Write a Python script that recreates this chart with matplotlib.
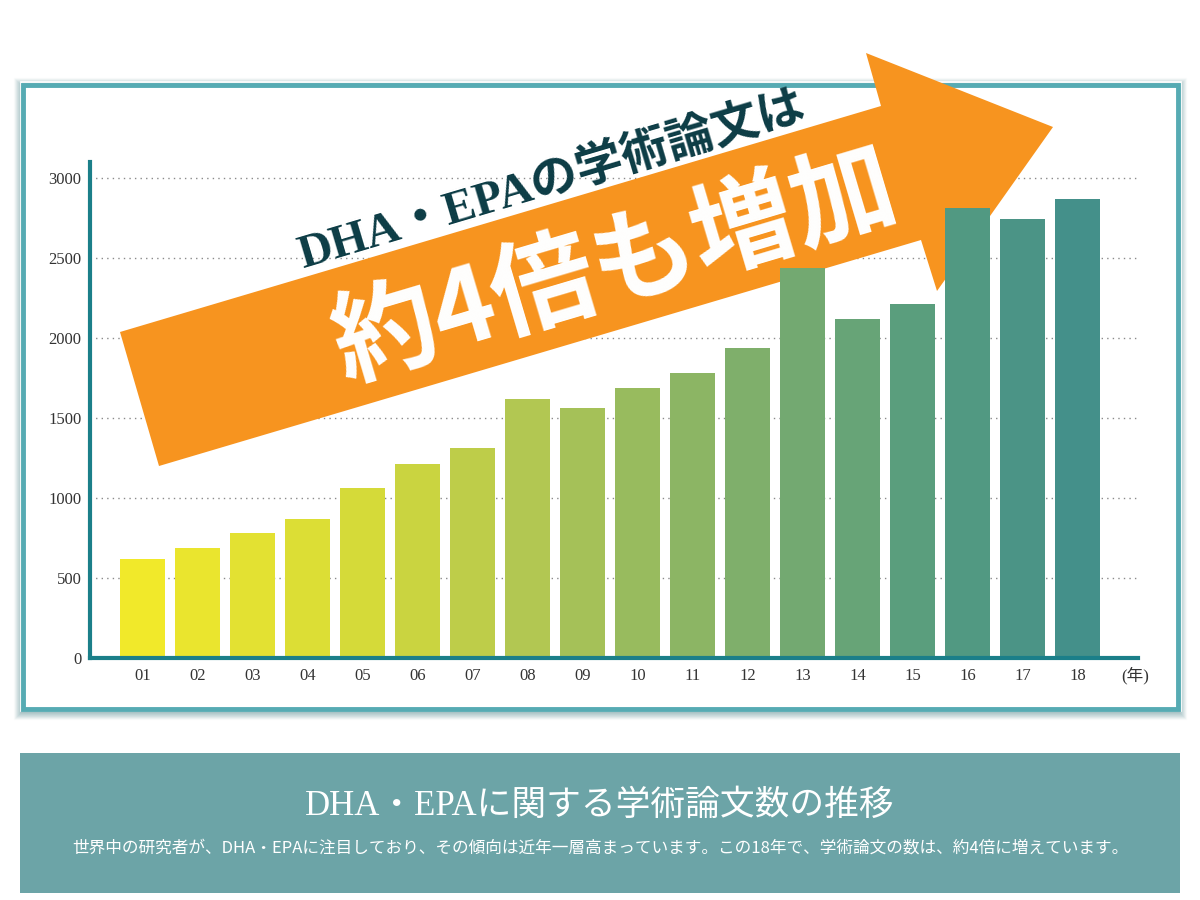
import numpy as np
import matplotlib
matplotlib.use('Agg')
import matplotlib.pyplot as plt
from matplotlib.patches import Polygon, Rectangle
from matplotlib.colors import LinearSegmentedColormap

# data (papers per year, 2001-2018)
years = ['01', '02', '03', '04', '05', '06', '07', '08', '09',
         '10', '11', '12', '13', '14', '15', '16', '17', '18']
papers = [620, 685, 780, 870, 1060, 1215, 1310, 1620, 1560,
          1685, 1780, 1935, 2435, 2120, 2215, 2810, 2745, 2870]
y_ticks = [0, 500, 1000, 1500, 2000, 2500, 3000]

title = 'DHA・EPAに関する学術論文数の推移'
subtitle = ('世界中の研究者が、DHA・EPAに注目しており、その傾向は近年一層高まっています。'
            'この18年で、学術論文の数は、約4倍に増えています。')
arrow_top = 'DHA・EPAの学術論文は'
arrow_big = '約4倍も増加'

W, H = 1200, 900
teal = '#1b7f89'
serif = ['Liberation Serif', 'Noto Sans CJK JP']
sans = ['Noto Sans CJK JP', 'DejaVu Sans']


def fx(px):
    return px / W


def fy(py):
    return 1 - py / H


fig = plt.figure(figsize=(12, 9), dpi=100)
fig.patch.set_facecolor('white')

# framed chart box with soft shadow
x0, y0, x1, y1 = 23, 84.5, 1178, 708.5
for k in range(1, 10):
    fig.patches.append(Rectangle((fx(x0 - k + 1), fy(y1 + k + 1)), fx(x1 - x0 + 2 * k - 2), (y1 - y0 + 2 * k - 2) / H,
                                 transform=fig.transFigure, fill=False, edgecolor='#2e6f76',
                                 lw=1.6, alpha=0.28 * (1 - k / 10), zorder=-3))
fig.patches.append(Rectangle((fx(x0 - 2.5), fy(y1 + 2.5)), fx(x1 - x0 + 5), (y1 - y0 + 5) / H,
                             transform=fig.transFigure, fill=False, edgecolor='white', lw=1.2, zorder=-2))
fig.patches.append(Rectangle((fx(x0), fy(y1)), fx(x1 - x0), (y1 - y0) / H,
                             transform=fig.transFigure, facecolor='white', edgecolor='#56abb3', lw=3.5, zorder=-1))

# bottom caption panel
fig.patches.append(Rectangle((fx(20), fy(893)), fx(1160), 140 / H, transform=fig.transFigure,
                             facecolor='#6ca4a7', edgecolor='none', zorder=-1))
fig.text(0.5, fy(806), title, family=serif, fontsize=25, color='white', ha='center', va='center')
fig.text(0.5, fy(848), subtitle, family=sans, fontsize=12, color='white', ha='center', va='center')

# bar chart
ax = fig.add_axes([fx(90), fy(658), fx(1138 - 90), (658 - 162) / H])
ax.patch.set_visible(False)
cmap = LinearSegmentedColormap.from_list('yg', [(0, '#f1e92a'), (0.25, '#d3d93a'), (0.42, '#b0c653'),
                                                (0.68, '#78ac6e'), (0.85, '#559b80'), (1, '#44908a')])
x = np.arange(len(years))
colors = [cmap(i / (len(years) - 1)) for i in x]
ax.bar(x, papers, width=0.82, color=colors, zorder=2)

ax.set_xlim(-0.955, 18.1)
ax.set_ylim(0, 3100)
ax.set_xticks(x)
ax.set_xticklabels(years)
ax.set_yticks(y_ticks)
ax.tick_params(length=0, labelsize=12, labelcolor='#333333')
ax.tick_params(axis='y', pad=6)
ax.tick_params(axis='x', pad=7)
for lab in ax.get_xticklabels() + ax.get_yticklabels():
    lab.set_family(serif)
ax.set_axisbelow(True)
ax.yaxis.grid(True, linestyle=(0, (1, 3)), color='#8a8a8a', lw=1)
for s in ['top', 'right']:
    ax.spines[s].set_visible(False)
for s in ['left', 'bottom']:
    ax.spines[s].set_color(teal)
    ax.spines[s].set_linewidth(3)
ax.text(0.997, -0.036, '(年)', transform=ax.transAxes, family=serif, fontsize=12,
        color='#333333', ha='center', va='center')

# big orange arrow behind the bars
arrow_px = [(120, 332), (881, 106), (866, 53), (1053, 127), (937, 291), (921, 240), (159, 466)]
arrow = Polygon([(fx(a), fy(b)) for a, b in arrow_px], closed=True, transform=fig.transFigure,
                facecolor='#f7941f', edgecolor='none', zorder=1.5, clip_on=False)
ax.add_patch(arrow)
ang = np.degrees(np.arctan2(226, 761))
ax.text(fx(552), fy(182), arrow_top, transform=fig.transFigure, family=serif, fontsize=34,
        fontweight='bold', color='#0c3c45', rotation=ang, rotation_mode='anchor',
        ha='center', va='center', zorder=5)
ax.text(fx(615), fy(268), arrow_big, transform=fig.transFigure, family=sans, fontsize=75,
        fontweight='bold', color='white', rotation=ang, rotation_mode='anchor',
        ha='center', va='center', zorder=5)

fig.savefig('out.png', dpi=100)
